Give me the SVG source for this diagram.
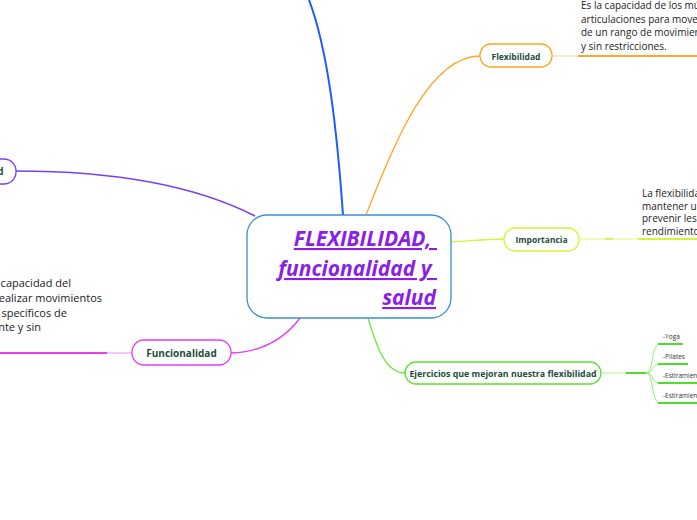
<svg xmlns="http://www.w3.org/2000/svg" width="697" height="520" viewBox="0 0 697 520">
<style>
.node{fill:#fff;stroke-width:1.3}
.lbl{font-family:"Open Sans","Noto Sans",sans-serif;font-weight:bold;fill:#1d4d3c;text-anchor:middle}
.det{font-family:"Open Sans","Noto Sans",sans-serif;fill:#222}
.sub{font-family:"Open Sans","Noto Sans",sans-serif;fill:#333;font-size:6.5px}
.c{fill:none}
.title{font-family:"Open Sans","Noto Sans",sans-serif;font-weight:bold;font-style:italic;font-size:21px;fill:#8c1ee6;text-anchor:end;text-decoration:underline}
</style>
<rect width="697" height="520" fill="#fff"/>
<g id="connectors">
  <path class="c" d="M343,215 C337,130 328,50 309,0" stroke="#1f5cff" stroke-width="2"/>
  <path class="c" d="M366,215 C395,140 430,56 480,56" stroke="#ffa726" stroke-width="1.3"/>
  <path class="c" d="M552,56 L578,56" stroke="#ffe0b0" stroke-width="1.5"/>
  <path class="c" d="M578,56 L697,56" stroke="#ffa726" stroke-width="2"/>
  <path class="c" d="M16,171 C120,171 200,188 255,216" stroke="#7b3ff2" stroke-width="1.5"/>
  <path class="c" d="M451,242 C470,241 485,239 504,239" stroke="#d6f23a" stroke-width="1.3"/>
  <path class="c" d="M579,239 L638,239" stroke="#eefaa8" stroke-width="1.5"/>
  <path class="c" d="M605,239 L613,239" stroke="#d6f23a" stroke-width="1.5"/>
  <path class="c" d="M638,239 L697,239" stroke="#d6f23a" stroke-width="2"/>
  <path class="c" d="M300,318 C285,338 262,352 231,353" stroke="#e63cf5" stroke-width="1.3"/>
  <path class="c" d="M132,353 L107,353" stroke="#f4b4fa" stroke-width="1.5"/>
  <path class="c" d="M107,353 L0,353" stroke="#e63cf5" stroke-width="2"/>
  <path class="c" d="M368,318 C376,345 385,373 405,373" stroke="#6ee840" stroke-width="1.3"/>
  <path class="c" d="M601,373 L626,373" stroke="#c8f7b4" stroke-width="1.5"/>
  <path class="c" d="M626,373 L646,373" stroke="#4fdc2a" stroke-width="2"/>
  <g stroke="#8ef06a" stroke-width="1" fill="none">
    <path d="M646,373 C654,373 651,344 660,344"/>
    <path d="M646,373 C654,373 651,364 660,364"/>
    <path d="M646,373 C654,373 651,383 660,383"/>
    <path d="M646,373 C654,373 651,403 660,403"/>
  </g>
  <g stroke="#4fdc2a" stroke-width="2" fill="none">
    <path d="M658,344 L683,344"/>
    <path d="M658,364 L688,364"/>
    <path d="M658,383 L697,383"/>
    <path d="M658,403 L697,403"/>
  </g>
</g>
<g id="central">
  <rect class="node" x="247" y="215" width="204" height="103" rx="20" stroke="#3d8fd1"/>
  <text class="title" xml:space="preserve"><tspan x="437" y="246">FLEXIBILIDAD, </tspan><tspan x="437" y="276">funcionalidad y </tspan><tspan x="436" y="305">salud</tspan></text>
</g>
<g id="flexibilidad">
  <rect class="node" x="480" y="44" width="72" height="23" rx="11" stroke="#ffa726"/>
  <text class="lbl" x="516" y="60" font-size="8.5">Flexibilidad</text>
  <text class="det" font-size="10"><tspan x="581" y="9">Es la capacidad de los músculos y</tspan><tspan x="581" y="23">articulaciones para moverse a través</tspan><tspan x="581" y="36">de un rango de movimiento completo</tspan><tspan x="581" y="50">y sin restricciones.</tspan></text>
</g>
<g id="salud">
  <rect class="node" x="-60" y="159" width="76" height="25" rx="12" stroke="#7b3ff2"/>
  <text class="lbl" x="3.5" y="175" font-size="10" style="text-anchor:end">Salud</text>
</g>
<g id="importancia">
  <rect class="node" x="504" y="228" width="75" height="23" rx="11" stroke="#d6f23a"/>
  <text class="lbl" x="541.5" y="243" font-size="8.5">Importancia</text>
  <text class="det" font-size="10"><tspan x="642" y="197">La flexibilidad</tspan><tspan x="642" y="210">mantener un</tspan><tspan x="642" y="222">prevenir lesiones</tspan><tspan x="642" y="235">rendimiento</tspan></text>
</g>
<g id="funcionalidad">
  <rect class="node" x="132" y="340" width="99" height="25" rx="12" stroke="#e63cf5"/>
  <text class="lbl" x="181.5" y="357" font-size="10">Funcionalidad</text>
  <text class="det" font-size="11" text-anchor="end"><tspan x="71" y="287">capacidad del</tspan><tspan x="102" y="302">ealizar movimientos</tspan><tspan x="67" y="317">specíficos de</tspan><tspan x="41" y="331">nte y sin</tspan></text>
</g>
<g id="ejercicios">
  <rect class="node" x="405" y="362" width="196" height="22" rx="11" stroke="#5fe030"/>
  <text class="lbl" x="503" y="376.5" font-size="8.8">Ejercicios que mejoran nuestra flexibilidad</text>
  <text class="sub" x="663" y="339">-Yoga</text>
  <text class="sub" x="663" y="359">-Pilates</text>
  <text class="sub" x="663" y="378">-Estiramientos</text>
  <text class="sub" x="663" y="398">-Estiramientos</text>
</g>
</svg>
